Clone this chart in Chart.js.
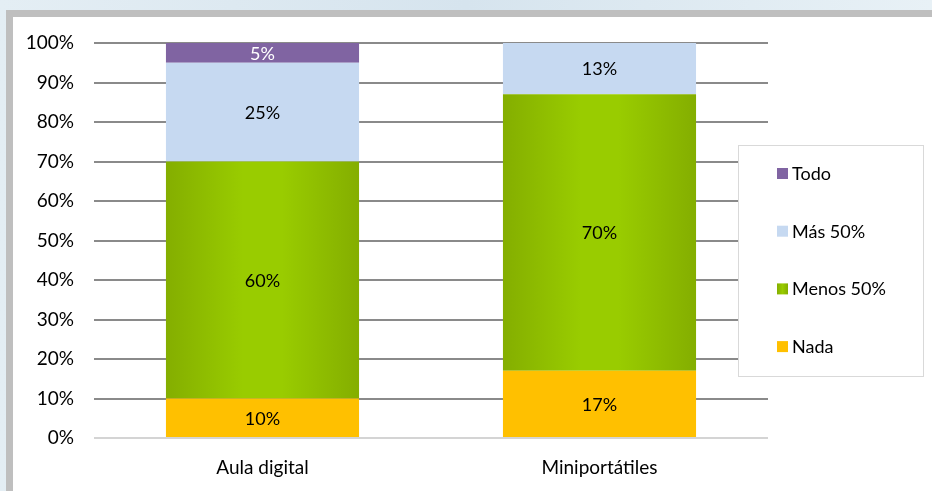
<!DOCTYPE html>
<html>
<head>
<meta charset="utf-8">
<script src="https://cdn.jsdelivr.net/npm/chart.js@4/dist/chart.umd.min.js"></script>
<style>
  html, body { margin: 0; padding: 0; }
  body { width: 932px; height: 491px; overflow: hidden; position: relative; background: linear-gradient(90deg, #e4eef4 0%, #d6e4ee 50%, #e8f1f6 100%); }
  .card { position: absolute; left: 6px; top: 10px; width: 940px; height: 500px; background: #fff; border-top: 7px solid #bfbfbf; border-left: 7px solid #bfbfbf; }
  .chart-box { position: absolute; left: 0; top: 0; width: 919px; height: 474px; }
</style>
</head>
<body>
<div class="card">
  <div class="chart-box"><canvas id="chart"></canvas></div>
</div>
<script>
// ── Data ────────────────────────────────────────────────────────────────
const categories = ['Aula digital', 'Miniportátiles']
const nada       = [10, 17]
const menos50    = [60, 70]
const mas50      = [25, 13]
const todo       = [5, 0]
const yTicks     = [0, 10, 20, 30, 40, 50, 60, 70, 80, 90, 100]

const FONT = 'Lato, "Open Sans", sans-serif'

// green bars have a horizontal shine; each bar gets its own options copy
const greenShine = {
  id: 'greenShine',
  beforeDatasetsDraw(chart) {
    const ctx = chart.ctx
    chart.data.datasets.forEach((ds, i) => {
      if (!ds.shine) return
      chart.getDatasetMeta(i).data.forEach(el => {
        const l = el.x - el.width / 2, r = el.x + el.width / 2
        const g = ctx.createLinearGradient(l, 0, r, 0)
        g.addColorStop(0, '#84ae00')
        g.addColorStop(0.4, '#99cc00')
        g.addColorStop(0.6, '#99cc00')
        g.addColorStop(1, '#84ae00')
        el.options = Object.assign({}, el.options, { backgroundColor: g })
      })
    })
  }
}

// value labels in the middle of each segment
const segLabels = {
  id: 'segLabels',
  afterDatasetsDraw(chart) {
    const ctx = chart.ctx
    ctx.save()
    ctx.font = '18px ' + FONT
    ctx.textAlign = 'center'
    ctx.textBaseline = 'middle'
    chart.data.datasets.forEach((ds, i) => {
      chart.getDatasetMeta(i).data.forEach((el, j) => {
        const v = ds.data[j]
        if (!v) return
        const p = el.getCenterPoint()
        ctx.fillStyle = ds.labelColor || '#000'
        ctx.fillText(v + '%', p.x, p.y + 1)
      })
    })
    ctx.restore()
  }
}

// boxed legend sitting over the right of the plot
const boxLegend = {
  id: 'boxLegend',
  afterDraw(chart) {
    const ctx = chart.ctx
    const bx = 725, by = 128, bw = 185, bh = 231
    ctx.save()
    ctx.fillStyle = '#fff'
    ctx.fillRect(bx, by, bw, bh)
    ctx.strokeStyle = '#d9d9d9'
    ctx.lineWidth = 1
    ctx.strokeRect(bx + 0.5, by + 0.5, bw, bh)
    ctx.font = '18px ' + FONT
    ctx.textBaseline = 'middle'
    const items = [...chart.data.datasets].reverse()
    items.forEach((ds, k) => {
      const y = by + 29 + k * 57.7
      if (ds.shine) {
        const g = ctx.createLinearGradient(bx + 39, 0, bx + 50, 0)
        g.addColorStop(0, '#84ae00'); g.addColorStop(0.5, '#99cc00'); g.addColorStop(1, '#84ae00')
        ctx.fillStyle = g
      } else {
        ctx.fillStyle = ds.backgroundColor
      }
      ctx.fillRect(bx + 39, y - 6, 11, 11)
      ctx.fillStyle = '#000'
      ctx.fillText(ds.label, bx + 54, y)
    })
    ctx.restore()
  }
}

new Chart(document.getElementById('chart'), {
  type: 'bar',
  data: {
    labels: categories,
    datasets: [
      { label: 'Nada',      data: nada,    backgroundColor: '#ffc000' },
      { label: 'Menos 50%', data: menos50, backgroundColor: '#99cc00', shine: true },
      { label: 'Más 50%',   data: mas50,   backgroundColor: '#c6d9f1' },
      { label: 'Todo',      data: todo,    backgroundColor: '#8064a2', labelColor: '#fff' }
    ]
  },
  options: {
    responsive: true,
    maintainAspectRatio: false,
    animation: false,
    layout: { padding: { left: 0, top: 26, right: 164, bottom: 0 } },
    datasets: { bar: { barPercentage: 0.573, categoryPercentage: 1, borderWidth: 0 } },
    plugins: { legend: { display: false }, tooltip: { enabled: false } },
    scales: {
      x: {
        stacked: true,
        grid: { display: false, drawTicks: false },
        border: { display: false },
        ticks: { color: '#000', font: { family: FONT, size: 19 }, padding: 18 },
        afterFit(s) { s.height = 53 }
      },
      y: {
        stacked: true,
        min: 0,
        max: 100,
        afterBuildTicks(s) { s.ticks = yTicks.map(v => ({ value: v })) },
        grid: {
          drawTicks: false,
          lineWidth: 2,
          color: c => c.tick && c.tick.value === 0 ? '#d4d4d4' : '#8a8a8a'
        },
        border: { display: false },
        ticks: { color: '#000', font: { family: FONT, size: 19 }, padding: 20, callback: v => v + '%' },
        afterFit(s) { s.width = 81; s.paddingTop = 0; s.paddingBottom = 0 }
      }
    }
  },
  plugins: [greenShine, segLabels, boxLegend]
})
</script>
</body>
</html>
